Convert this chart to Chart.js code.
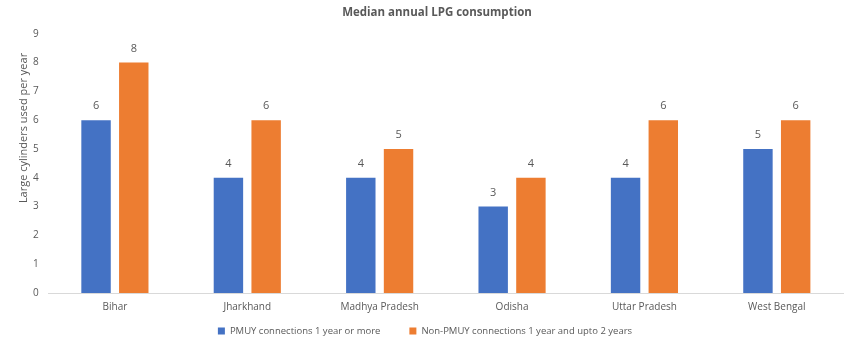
<!DOCTYPE html>
<html lang="en">
<head>
<meta charset="UTF-8">
<title>Median annual LPG consumption</title>
<script src="https://cdn.jsdelivr.net/npm/chart.js"></script>
<style>
    html, body { margin: 0; padding: 0; background: #fff; }
    #wrap { width: 850px; height: 342px; }
</style>
</head>
<body>
<div id="wrap"><canvas id="lpgChart"></canvas></div>
<script>
    const states = ['Bihar', 'Jharkhand', 'Madhya Pradesh', 'Odisha', 'Uttar Pradesh', 'West Bengal'];
    const pmuy = [6, 4, 4, 3, 4, 5];
    const nonPmuy = [8, 6, 5, 4, 6, 6];
    const yTicks = [0, 1, 2, 3, 4, 5, 6, 7, 8, 9];
    const yTitle = 'Large cylinders used per year';

    const textColor = '#595959';
    const fontFamily = "'Open Sans', 'Liberation Sans', sans-serif";

    // labels above each bar
    const barValues = {
        id: 'barValues',
        afterDatasetsDraw(chart) {
            const ctx = chart.ctx;
            ctx.save();
            ctx.fillStyle = textColor;
            ctx.font = '11px ' + fontFamily;
            ctx.textAlign = 'center';
            ctx.textBaseline = 'middle';
            chart.data.datasets.forEach((ds, i) => {
                chart.getDatasetMeta(i).data.forEach((bar, j) => {
                    ctx.fillText(ds.data[j], bar.x, bar.y - 14);
                });
            });
            ctx.restore();
        }
    };

    // legend and y title drawn by hand so they sit where the original puts them
    const extras = {
        id: 'extras',
        afterDraw(chart) {
            const ctx = chart.ctx;
            const sets = chart.data.datasets;
            const box = 7, gapText = 5, gapItem = 29, y = 331;
            ctx.save();
            ctx.font = '9.5px ' + fontFamily;
            ctx.textBaseline = 'middle';
            const widths = sets.map(ds => box + gapText + ctx.measureText(ds.label).width);
            const total = widths.reduce((a, b) => a + b, 0) + gapItem * (sets.length - 1);
            let x = (chart.width - total) / 2;
            sets.forEach((ds, i) => {
                ctx.fillStyle = ds.backgroundColor;
                ctx.fillRect(x, y - box / 2, box, box);
                ctx.fillStyle = textColor;
                ctx.fillText(ds.label, x + box + gapText, y);
                x += widths[i] + gapItem;
            });

            ctx.translate(24, 128);
            ctx.rotate(-Math.PI / 2);
            ctx.font = '11px ' + fontFamily;
            ctx.textAlign = 'center';
            ctx.fillStyle = textColor;
            ctx.fillText(yTitle, 0, 0);
            ctx.restore();
        }
    };

    new Chart(document.getElementById('lpgChart'), {
        type: 'bar',
        data: {
            labels: states,
            datasets: [
                {
                    label: 'PMUY connections 1 year or more',
                    data: pmuy,
                    backgroundColor: '#4472C4',
                    barPercentage: 0.78,
                    categoryPercentage: 0.57
                },
                {
                    label: 'Non-PMUY connections 1 year and upto 2 years',
                    data: nonPmuy,
                    backgroundColor: '#ED7D31',
                    barPercentage: 0.78,
                    categoryPercentage: 0.57
                }
            ]
        },
        options: {
            responsive: true,
            maintainAspectRatio: false,
            animation: false,
            layout: { padding: { left: 31, right: 7, top: 4, bottom: 29 } },
            plugins: {
                title: {
                    display: true,
                    text: 'Median annual LPG consumption',
                    color: textColor,
                    font: { family: fontFamily, size: 11.5, weight: 'bold' },
                    padding: { top: 2, bottom: 14 }
                },
                legend: { display: false },
                tooltip: { enabled: false }
            },
            scales: {
                x: {
                    grid: { display: false },
                    border: { color: '#d9d9d9' },
                    ticks: { color: textColor, font: { family: fontFamily, size: 10 }, padding: 0, maxRotation: 0 }
                },
                y: {
                    min: 0,
                    max: 9,
                    afterBuildTicks(axis) { axis.ticks = yTicks.map(v => ({ value: v })); },
                    grid: { display: false },
                    border: { display: false },
                    ticks: { color: textColor, font: { family: fontFamily, size: 10 }, padding: 2 }
                }
            }
        },
        plugins: [barValues, extras]
    });
</script>
</body>
</html>
